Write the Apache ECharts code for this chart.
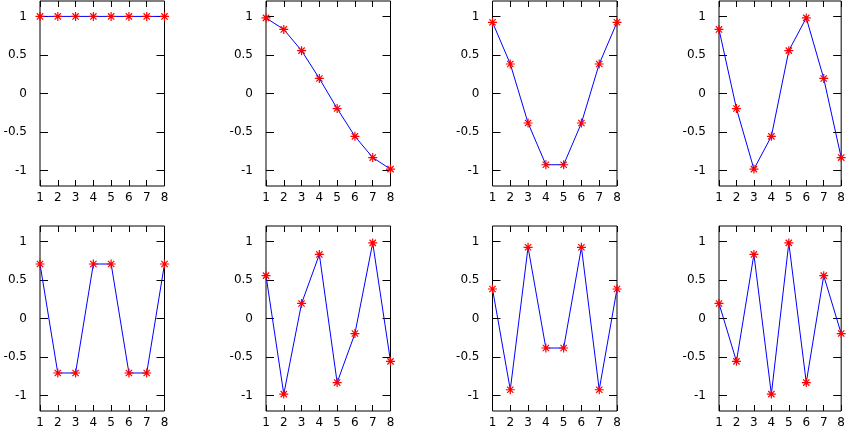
<!DOCTYPE html>
<html><head><meta charset="utf-8">
<script src="https://cdn.jsdelivr.net/npm/echarts@6/dist/echarts.min.js"></script>
<style>html,body{margin:0;padding:0;background:#fff}#c{width:848px;height:429px}</style>
</head><body><div id="c"></div>
<script>
var categories = [1, 2, 3, 4, 5, 6, 7, 8];
var yTicks = [-1, -0.5, 0, 0.5, 1];
var s0 = [1, 1, 1, 1, 1, 1, 1, 1];
var s1 = [0.981, 0.831, 0.556, 0.195, -0.195, -0.556, -0.831, -0.981];
var s2 = [0.924, 0.383, -0.383, -0.924, -0.924, -0.383, 0.383, 0.924];
var s3 = [0.831, -0.195, -0.981, -0.556, 0.556, 0.981, 0.195, -0.831];
var s4 = [0.707, -0.707, -0.707, 0.707, 0.707, -0.707, -0.707, 0.707];
var s5 = [0.556, -0.981, 0.195, 0.831, -0.831, -0.195, 0.981, -0.556];
var s6 = [0.383, -0.924, 0.924, -0.383, -0.383, 0.924, -0.924, 0.383];
var s7 = [0.195, -0.556, 0.831, -0.981, 0.981, -0.831, 0.556, -0.195];
var allSeries = [s0, s1, s2, s3, s4, s5, s6, s7];

var lefts = [40, 266, 492.5, 719];
var tops = [1, 226];
var W = 124.5, H = 185;
var font = 'DejaVu Sans, sans-serif';
var star = 'path://M0,5L10,5M5,0L5,10M1.5,1.5L8.5,8.5M8.5,1.5L1.5,8.5';

var grids = [], xAxes = [], yAxes = [], series = [];
allSeries.forEach(function (vals, i) {
  var r = Math.floor(i / 4), c = i % 4;
  grids.push({left: lefts[c], top: tops[r], width: W, height: H, show: true,
    borderColor: '#000', borderWidth: 1, backgroundColor: '#fff'});
  var baseX = {type: 'value', gridIndex: i, min: 1, max: 8, interval: 1,
    splitLine: {show: false}, axisLine: {show: false, onZero: false}};
  xAxes.push(Object.assign({}, baseX, {position: 'bottom',
    axisTick: {show: true, inside: true, length: 6, lineStyle: {color: '#000'}},
    axisLabel: {show: true, color: '#000', fontSize: 12, fontFamily: font, margin: 6}}));
  xAxes.push(Object.assign({}, baseX, {position: 'top',
    axisTick: {show: true, inside: true, length: 6, lineStyle: {color: '#000'}},
    axisLabel: {show: false}}));
  yAxes.push({type: 'value', gridIndex: i, min: -1.2, max: 1.2,
    splitLine: {show: false}, axisLine: {show: false, onZero: false},
    axisTick: {show: false}, axisLabel: {show: false}});
  series.push({type: 'line', xAxisIndex: 2 * i, yAxisIndex: i,
    data: categories.map(function (x, k) { return [x, vals[k]]; }),
    lineStyle: {color: '#0000ff', width: 1},
    symbol: star, symbolSize: 9, showSymbol: true,
    itemStyle: {color: 'rgba(0,0,0,0)', borderColor: '#ff0000', borderWidth: 1.2},
    animation: false, silent: true, z: 3
  });
});

allSeries.forEach(function (vals, i) {
  var base = {type: 'value', gridIndex: i, min: -1.2, max: 1.2,
    splitLine: {show: false}, axisLine: {show: false, onZero: false}};
  yAxes.push(Object.assign({}, base, {position: 'left',
    axisTick: {show: true, inside: true, length: 8, lineStyle: {color: '#000'}, customValues: yTicks},
    axisLabel: {show: true, color: '#000', fontSize: 12, fontFamily: font, margin: 13, customValues: yTicks}}));
  yAxes.push(Object.assign({}, base, {position: 'right',
    axisTick: {show: true, inside: true, length: 8, lineStyle: {color: '#000'}, customValues: yTicks},
    axisLabel: {show: false}}));
});

var chart = echarts.init(document.getElementById('c'), null, {renderer: 'canvas'});
chart.setOption({animation: false, grid: grids, xAxis: xAxes, yAxis: yAxes, series: series});
</script></body></html>
